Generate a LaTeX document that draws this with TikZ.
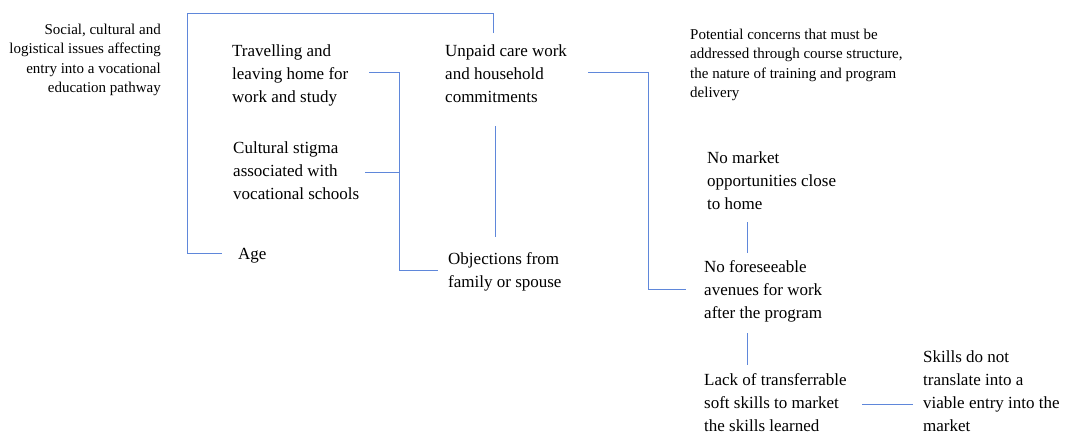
\documentclass[tikz,border=0pt]{standalone}
\usepackage{fontspec}
\setmainfont{Liberation Serif}
\definecolor{linkblue}{RGB}{95,135,218}
\begin{document}
\begin{tikzpicture}[x=1pt,y=-1pt,
  big/.style={inner sep=0pt,anchor=base west,align=left,font=\fontsize{17}{23}\selectfont},
  small/.style={inner sep=0pt,align=left,font=\fontsize{15}{19.3}\selectfont},
  link/.style={draw=linkblue,line width=1pt}]
\useasboundingbox (0,0) rectangle (1067,434);
% nodes (anchored at the baseline of their last line)
\node[small,anchor=base east,align=right] (lefthead) at (161,92.4) {Social, cultural and\\logistical issues affecting\\entry into a vocational\\education pathway};
\node[small,anchor=base west] (righthead) at (690,97.5) {Potential concerns that must be\\addressed through course structure,\\the nature of training and program\\delivery};
\node[big] (travel) at (232,102.5) {Travelling and\\leaving home for\\work and study};
\node[big] (unpaid) at (445,102.5) {Unpaid care work\\and household\\commitments};
\node[big] (stigma) at (233,199.5) {Cultural stigma\\associated with\\vocational schools};
\node[big] (age) at (238,259.5) {Age};
\node[big] (object) at (448,287.5) {Objections from\\family or spouse};
\node[big] (nomarket) at (707,209.5) {No market\\opportunities close\\to home};
\node[big] (avenues) at (704,318) {No foreseeable\\avenues for work\\after the program};
\node[big] (lack) at (704,431.5) {Lack of transferrable\\soft skills to market\\the skills learned};
\node[big] (skills) at (923,431.5) {Skills do not\\translate into a\\viable entry into the\\market};
% connector ends
\coordinate (unpaidTop) at (493.5,33);
\coordinate (ageL) at (222,253.5);
\coordinate (unpaidBot) at (495.5,126);
\coordinate (objectTop) at (495.5,237);
\coordinate (travelR) at (369,72.5);
\coordinate (objectL) at (438,270.5);
\coordinate (stigmaR) at (365,172.5);
\coordinate (unpaidR) at (588,72.5);
\coordinate (avenuesL) at (686,289.5);
\coordinate (nomarketBot) at (747.5,222);
\coordinate (avenuesTop) at (747.5,253);
\coordinate (avenuesBot) at (747.5,333);
\coordinate (lackTop) at (747.5,365);
\coordinate (lackR) at (862,404.5);
\coordinate (skillsL) at (913,404.5);
% connectors
\draw[link] (unpaidTop) |- (187.5,13.5) |- (ageL);
\draw[link] (unpaidBot) -- (objectTop);
\draw[link] (travelR) -| (399.5,270.5) -- (objectL);
\draw[link] (stigmaR) -- (399.5,172.5);
\draw[link] (unpaidR) -| (648.5,289.5) -- (avenuesL);
\draw[link] (nomarketBot) -- (avenuesTop);
\draw[link] (avenuesBot) -- (lackTop);
\draw[link] (lackR) -- (skillsL);
\end{tikzpicture}
\end{document}
